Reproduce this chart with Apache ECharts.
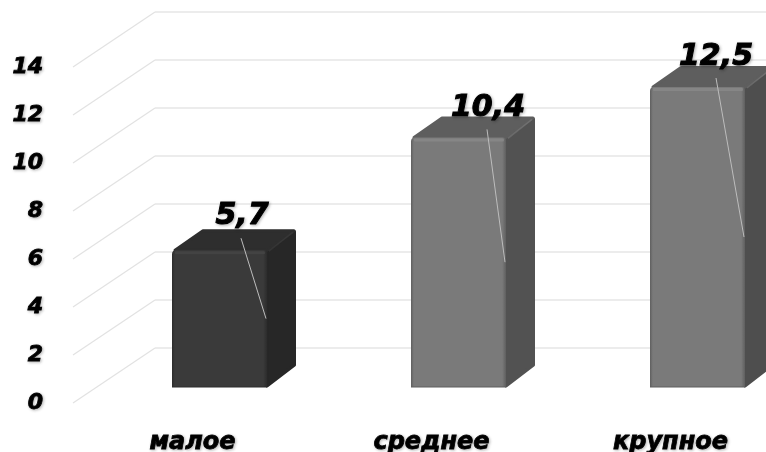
<!DOCTYPE html>
<html><head><meta charset="utf-8">
<style>html,body{margin:0;padding:0;background:#fff}#c{width:766px;height:452px}</style>
<script src="https://cdn.jsdelivr.net/npm/echarts@6/dist/echarts.min.js"></script>
</head><body><div id="c"></div>
<script>
const categories = ['малое', 'среднее', 'крупное'];
const values = [5.7, 10.4, 12.5];
const yTicks = [0, 2, 4, 6, 8, 10, 12, 14];

// layout and styling, separate from the data
const labelNudge = [[-25, -34], [-18, -29], [-29, -30]];
const leaderNudge = [[-26, -12], [-19, -8], [-29, -9]];
const palette = [
  {front: '#3a3a3a', edge: '#2c2c2c', hi: '#474747', top: '#2e2e2e', side: '#272727'},
  {front: '#7a7a7a', edge: '#5f5f5f', hi: '#8c8c8c', top: '#5e5e5e', side: '#525252'},
  {front: '#7a7a7a', edge: '#5f5f5f', hi: '#8c8c8c', top: '#5e5e5e', side: '#4e4e4e'}
];
const FONT = '"DejaVu Sans", sans-serif';
const wallDx = 82, wallDy = -55;
const faceDx = 27, faceDy = -16, depthDx = 29, depthDy = -21, barRatio = 95 / 239;

const chart = echarts.init(document.getElementById('c'), null, {renderer: 'canvas'});

function renderDiag(params, api) {
  const p = api.coord([0, api.value(0)]);
  const x0 = params.coordSys.x;
  return {type: 'line', silent: true,
    shape: {x1: x0, y1: p[1], x2: x0 + wallDx, y2: p[1] + wallDy},
    style: {stroke: '#e2e2e2', lineWidth: 1.2}};
}

function renderBar(params, api) {
  const i = params.dataIndex;
  const c = palette[i];
  const v = api.value(1);
  const w = api.size([1, 0])[0] * barRatio;
  const topPt = api.coord([api.value(0), v]);
  const basePt = api.coord([api.value(0), 0]);
  const midPt = api.coord([api.value(0), v / 2]);
  const l = topPt[0] + faceDx - w / 2, r = l + w;
  const t = topPt[1] + faceDy, b = basePt[1] + faceDy;
  const dx = depthDx, dy = depthDy;
  const grad = new echarts.graphic.LinearGradient(0, 0, 1, 0, [
    {offset: 0, color: c.edge}, {offset: 0.03, color: c.front},
    {offset: 0.96, color: c.front}, {offset: 1, color: c.edge}
  ]);
  return {type: 'group', children: [
    {type: 'polygon', shape: {points: [[r, t + 1], [r + dx - 1.5, t + dy + 2.5], [r + dx - 1.5, b + dy - 1], [r, b - 1]]},
      style: {fill: c.side, stroke: c.side, lineWidth: 3, lineJoin: 'round'}},
    {type: 'polygon', shape: {points: [[l + 3, t], [l + dx + 2, t + dy + 1.5], [r + dx - 2, t + dy + 1.5], [r, t]]},
      style: {fill: c.top, stroke: c.top, lineWidth: 3, lineJoin: 'round'}},
    {type: 'line', shape: {x1: r + 2, y1: t + 1, x2: r + dx - 3, y2: t + dy + 3},
      style: {stroke: c.hi, lineWidth: 1.5, opacity: 0.4}},
    {type: 'rect', shape: {x: l, y: t, width: w, height: b - t, r: [4, 3, 0, 0]},
      style: {fill: grad}},
    {type: 'rect', shape: {x: l + 3, y: t + 1, width: w - 5, height: 3, r: 1},
      style: {fill: c.hi, opacity: 0.7}},
    {type: 'line', shape: {x1: l, y1: b, x2: r, y2: b},
      style: {stroke: c.edge, lineWidth: 1}},
    {type: 'line',
      shape: {x1: r + leaderNudge[i][0], y1: t + leaderNudge[i][1], x2: r - 1, y2: midPt[1] + faceDy},
      style: {stroke: '#bdbdbd', lineWidth: 1}},
    {type: 'text', style: {
      text: api.value(1).toFixed(1).replace('.', ','),
      x: r + labelNudge[i][0], y: t + labelNudge[i][1],
      align: 'center', verticalAlign: 'middle',
      font: 'italic bold 30px ' + FONT, fill: '#000',
      stroke: '#000', lineWidth: 1,
      textShadowColor: 'rgba(0,0,0,0.25)', textShadowBlur: 3, textShadowOffsetX: 1, textShadowOffsetY: 1
    }}
  ]};
}

const axisText = {
  color: '#000', fontFamily: FONT, fontStyle: 'italic', fontWeight: 'bold',
  textBorderColor: '#000', textBorderWidth: 0.8,
  textShadowColor: 'rgba(0,0,0,0.25)', textShadowBlur: 3, textShadowOffsetX: 1, textShadowOffsetY: 1
};

chart.setOption({
  animation: false,
  backgroundColor: '#fff',
  grid: [
    {left: 73, width: 717, top: 67, height: 336, outerBoundsMode: 'none'},
    {left: 155, width: 611, top: 12, height: 336, outerBoundsMode: 'none'}
  ],
  xAxis: [
    {gridIndex: 0, type: 'category', data: categories,
      axisLine: {show: false}, axisTick: {show: false}, splitLine: {show: false},
      axisLabel: Object.assign({margin: 28, interval: 0, fontSize: 24}, axisText)},
    {gridIndex: 1, type: 'category', data: categories, show: false}
  ],
  yAxis: [
    {gridIndex: 0, type: 'value', min: 0, max: 14, interval: 2,
      axisLine: {show: false}, axisTick: {show: false}, splitLine: {show: false},
      axisLabel: Object.assign({margin: 30, align: 'right', fontSize: 22, padding: [3, 0, 0, 0]}, axisText)},
    {gridIndex: 1, type: 'value', min: 0, max: 14, interval: 2,
      axisLine: {show: false}, axisTick: {show: false}, axisLabel: {show: false},
      splitLine: {show: true, lineStyle: {color: '#e6e6e6', width: 1.5}}}
  ],
  series: [
    {type: 'custom', xAxisIndex: 0, yAxisIndex: 0, z: 1, clip: false, silent: true,
      data: yTicks.map(t => [t]), encode: {y: 0}, renderItem: renderDiag},
    {type: 'custom', xAxisIndex: 0, yAxisIndex: 0, z: 5, clip: false, silent: true,
      data: values.map((v, i) => [i, v]), encode: {x: 0, y: 1}, renderItem: renderBar}
  ]
});
</script></body></html>
